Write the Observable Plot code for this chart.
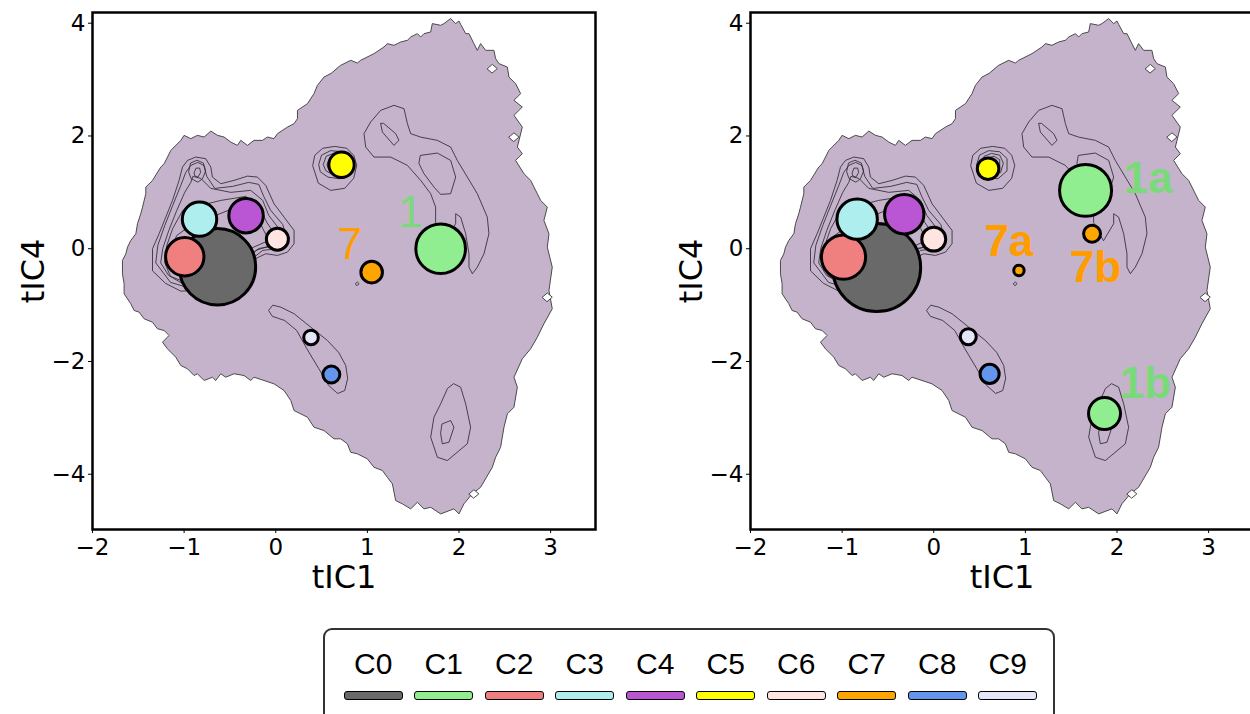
<!DOCTYPE html>
<html><head><meta charset="utf-8">
<script src="https://cdn.jsdelivr.net/npm/d3@7"></script>
<script src="https://cdn.jsdelivr.net/npm/@observablehq/plot@0.6"></script>
<style>
html,body{margin:0;padding:0;background:#fff;width:1250px;height:714px;overflow:hidden;}
#wrap{position:relative;width:1250px;height:714px;overflow:hidden;}
.panel{position:absolute;top:0;}
.panel g[aria-label$="tick label"], .panel g[aria-label$="tick label"] text{font-size:23px !important;font-family:"DejaVu Sans",sans-serif !important;}
#legendBox{position:absolute;left:323px;top:628px;width:732px;height:140px;border:2.5px solid #333;border-radius:9px;box-sizing:border-box;}
.lab{position:absolute;font-family:"Liberation Sans",Arial,sans-serif;font-size:30px;line-height:1;transform:translate(-50%,-50%);color:#000;white-space:nowrap;}
.patch{position:absolute;width:58.7px;height:9.3px;box-sizing:border-box;border:1.3px solid #000;border-radius:3px;}
</style>
</head><body><div id="wrap"></div>
<script>
// ---------- categories & colours ----------
const clusters = ["C0","C1","C2","C3","C4","C5","C6","C7","C8","C9"];
const clusterColors = ["#696969","#90ee90","#f08080","#afeeee","#ba55d3","#ffff00","#ffe4e1","#ffa500","#6495ed","#e6e6fa"];

// ---------- axes ----------
const xDomain = [-2, 3.49];
const yDomain = [-4.98, 4.19];
const xTicks = [-2,-1,0,1,2,3];
const yTicks = [-4,-2,0,2,4];
const xTitle = "tIC1";
const yTitle = "tIC4";

// ---------- left panel clusters ----------
const leftNames   = ["C0","C1","C2","C3","C4","C5","C6","C7","C8","C9"];
const leftCluster = ["C0","C1","C2","C3","C4","C5","C6","C7","C8","C9"];
const leftX = [-0.636, 1.80, -0.993, -0.832, -0.324, 0.718, 0.018, 1.047, 0.607, 0.385];
const leftY = [-0.32, 0.0, -0.142, 0.525, 0.586, 1.49, 0.17, -0.415, -2.23, -1.574];
const leftW = [75.4, 31.8, 19.0, 15.3, 15.3, 8.3, 6.25, 6.0, 3.7, 2.75];
const leftLabelText = ["1","7"];
const leftLabelCluster = ["C1","C7"];
const leftLabelX = [1.47, 0.807];
const leftLabelY = [0.64, 0.076];

// ---------- right panel clusters ----------
const rightNames   = ["C0","C1a","C1b","C2","C3","C4","C5","C6","C7a","C7b","C8","C9"];
const rightCluster = ["C0","C1","C1","C2","C3","C4","C5","C6","C7","C7","C8","C9"];
const rightX = [-0.623, 1.657, 1.864, -0.985, -0.836, -0.322, 0.593, 0.0, 0.93, 1.728, 0.61, 0.377];
const rightY = [-0.335, 1.035, -2.923, -0.149, 0.525, 0.612, 1.42, 0.17, -0.385, 0.266, -2.22, -1.56];
const rightW = [100, 34.9, 13.2, 25.2, 21.1, 20.0, 6.0, 7.4, 1.4, 3.7, 4.7, 3.3];
const rightLabelText = ["1a","1b","7a","7b"];
const rightLabelCluster = ["C1","C1","C7","C7"];
const rightLabelX = [2.34, 2.31, 0.82, 1.765];
const rightLabelY = [1.24, -2.39, 0.12, -0.345];

// ---------- density landscape (sampled region outline) ----------
const outline = [
 [0.709,3.253],[0.818,3.342],[0.891,3.294],[0.927,3.342],[1.072,3.460],[1.181,3.578],[1.218,3.638],[1.290,3.608],
 [1.364,3.667],[1.437,3.697],[1.473,3.755],[1.546,3.815],[1.582,3.755],[1.618,3.815],[1.691,3.844],[1.709,3.993],
 [1.800,3.963],[1.836,3.993],[1.909,4.082],[1.964,3.993],[2.000,4.039],[2.018,3.980],[2.073,3.815],[2.109,3.815],
 [2.163,3.638],[2.200,3.519],[2.236,3.638],[2.291,3.519],[2.381,3.519],[2.400,3.372],[2.436,3.283],[2.528,3.223],
 [2.545,3.045],[2.618,2.928],[2.673,2.751],[2.600,2.632],[2.691,2.513],[2.600,2.366],[2.691,2.158],[2.637,1.803],
 [2.691,1.686],[2.618,1.567],[2.709,1.331],[2.782,1.212],[2.855,0.976],[2.891,0.857],[2.964,0.738],[2.927,0.502],
 [2.982,0.266],[2.964,0.028],[3.018,-0.327],[2.982,-0.740],[3.018,-1.065],[2.927,-1.331],[2.855,-1.569],[2.782,-1.775],
 [2.691,-1.952],[2.600,-2.279],[2.637,-2.456],[2.600,-2.811],[2.528,-2.928],[2.491,-3.166],[2.454,-3.521],[2.400,-3.698],
 [2.364,-3.876],[2.236,-4.231],[2.145,-4.348],[2.054,-4.525],[2.000,-4.703],[1.945,-4.614],[1.800,-4.703],[1.691,-4.586],
 [1.618,-4.614],[1.546,-4.497],[1.473,-4.614],[1.382,-4.525],[1.309,-4.467],[1.273,-4.170],[1.218,-4.053],[1.164,-3.934],
 [1.072,-3.876],[1.000,-3.727],[0.891,-3.638],[0.818,-3.610],[0.782,-3.460],[0.709,-3.372],[0.636,-3.372],[0.527,-3.225],
 [0.418,-3.166],[0.346,-2.988],[0.200,-2.870],[0.164,-2.692],[0.091,-2.515],[-0.019,-2.396],[-0.128,-2.337],[-0.237,-2.279],
 [-0.273,-2.337],[-0.346,-2.249],[-0.455,-2.218],[-0.546,-2.279],[-0.600,-2.218],[-0.655,-2.337],[-0.691,-2.279],[-0.782,-2.337],
 [-0.855,-2.218],[-0.891,-2.249],[-0.963,-2.130],[-1.036,-2.071],[-1.091,-1.924],[-1.182,-1.775],[-1.236,-1.657],[-1.164,-1.539],
 [-1.218,-1.450],[-1.291,-1.420],[-1.345,-1.303],[-1.437,-1.242],[-1.491,-1.125],[-1.546,-1.095],[-1.582,-0.976],[-1.655,-0.799],
 [-1.655,-0.621],[-1.673,-0.444],[-1.673,-0.208],[-1.636,-0.089],[-1.618,0.028],[-1.582,0.147],[-1.527,0.266],[-1.509,0.444],
 [-1.473,0.621],[-1.454,0.738],[-1.418,0.976],[-1.418,1.093],[-1.345,1.212],[-1.255,1.448],[-1.218,1.508],[-1.145,1.744],
 [-1.036,1.922],[-1.000,2.011],[-0.927,1.952],[-0.855,2.011],[-0.782,1.981],[-0.709,2.087],[-0.636,2.011],[-0.564,1.981],
 [-0.491,1.892],[-0.418,1.833],[-0.382,1.922],[-0.309,1.833],[-0.237,1.922],[-0.145,1.922],[-0.091,1.981],[-0.019,1.952],
 [0.019,2.041],[0.128,2.158],[0.200,2.218],[0.237,2.307],[0.237,2.454],[0.346,2.573],[0.418,2.751],[0.455,2.898],
 [0.527,3.045],[0.600,3.106]
];
const holeA = [[2.31,3.194],[2.364,3.27],[2.418,3.194],[2.364,3.12]];
const holeB = [[2.545,1.981],[2.600,2.055],[2.655,1.981],[2.600,1.905]];
const holeC = [[2.91,-0.859],[2.964,-0.785],[3.018,-0.859],[2.964,-0.935]];
const holeD = [[2.11,-4.348],[2.163,-4.275],[2.217,-4.348],[2.163,-4.42]];

// ---------- contour lines ----------
const contourUpper = [
 [1.745,0.472],[1.745,0.738],[1.691,0.976],[1.582,1.212],[1.437,1.478],[1.255,1.626],[1.072,1.626],[0.982,1.803],
 [0.963,2.041],[1.036,2.247],[1.145,2.454],[1.290,2.543],[1.400,2.484],[1.437,2.218],[1.473,2.041],[1.582,1.980],
 [1.764,1.922],[1.909,1.803],[1.982,1.565],[2.091,1.271],[2.200,0.976],[2.309,0.561],[2.327,0.266],[2.273,-0.089],
 [2.200,-0.327],[2.146,-0.444],[2.109,-0.327],[2.109,-0.089],[2.073,0.266],[2.018,0.561],[1.964,0.621],[1.964,0.444],
 [1.855,0.147]
];
const contourUpperSmall = [[1.145,2.218],[1.164,2.069],[1.290,1.833],[1.345,1.922],[1.309,2.041],[1.181,2.218]];
const contourUpperInner = [[1.582,1.656],[1.764,1.697],[1.909,1.567],[1.964,1.271],[1.909,0.976],[1.800,0.964],[1.727,1.093],[1.618,1.331],[1.564,1.508]];
const contourLower = [
 [-0.076,-1.090],[-0.033,-1.001],[0.055,-1.036],[0.200,-1.153],[0.382,-1.391],[0.564,-1.627],[0.687,-1.840],[0.764,-2.071],
 [0.785,-2.302],[0.753,-2.515],[0.676,-2.568],[0.578,-2.426],[0.469,-2.125],[0.338,-1.770],[0.229,-1.450],[0.098,-1.273],[-0.033,-1.201]
];
const contourBottomOuter = [[1.945,-2.396],[2.018,-2.456],[2.073,-2.751],[2.127,-3.166],[2.091,-3.460],[1.873,-3.757],[1.764,-3.698],[1.691,-3.343],[1.727,-2.988],[1.800,-2.751],[1.873,-2.484]];
const contourBottomInner = [[1.818,-3.106],[1.909,-3.047],[1.945,-3.166],[1.891,-3.432],[1.818,-3.460],[1.800,-3.283]];
const contourYellow1 = [[0.404,1.480],[0.426,1.657],[0.513,1.782],[0.644,1.815],[0.775,1.782],[0.851,1.657],[0.884,1.480],[0.851,1.250],[0.753,1.072],[0.600,1.035],[0.469,1.159]];
const contourYellow2 = [[0.47,1.50],[0.50,1.66],[0.60,1.74],[0.72,1.72],[0.80,1.60],[0.80,1.38],[0.70,1.24],[0.57,1.27],[0.49,1.36]];
const contourYellow3 = [[0.52,1.50],[0.55,1.64],[0.63,1.69],[0.72,1.66],[0.76,1.52],[0.73,1.35],[0.63,1.31],[0.55,1.38]];
const contourYellow4 = [[0.56,1.50],[0.59,1.61],[0.66,1.64],[0.72,1.58],[0.72,1.43],[0.64,1.38],[0.58,1.42]];
const contourCluster1 = [
 [-1.345,-0.385],[-1.345,0.0],[-1.273,0.266],[-1.200,0.561],[-1.127,0.857],[-1.055,1.212],[-1.018,1.448],[-0.963,1.567],
 [-0.873,1.626],[-0.764,1.597],[-0.709,1.448],[-0.691,1.271],[-0.600,1.153],[-0.455,1.212],[-0.309,1.288],[-0.200,1.271],
 [-0.109,1.123],[-0.019,0.799],[0.091,0.561],[0.200,0.325],[0.200,0.089],[0.128,-0.060],[0.019,-0.119],[-0.109,-0.089],
 [-0.491,-0.385],[-0.818,-0.740],[-1.036,-0.752],[-1.200,-0.616]
];
const contourCluster2 = [
 [-1.309,-0.243],[-1.287,0.059],[-1.211,0.414],[-1.124,0.769],[-1.036,1.123],[-0.982,1.354],[-0.927,1.478],[-0.851,1.531],
 [-0.785,1.478],[-0.753,1.283],[-0.665,1.070],[-0.469,1.106],[-0.295,1.177],[-0.185,1.141],[-0.131,0.928],[-0.055,0.680],
 [0.076,0.431],[0.120,0.183],[0.033,0.005],[-0.142,-0.030],[-0.491,-0.474],[-0.927,-0.705],[-1.145,-0.598]
];
const contourCluster3 = [
 [-1.255,-0.243],[-1.233,0.005],[-1.167,0.325],[-1.080,0.680],[-0.993,1.000],[-0.927,1.177],[-0.905,1.283],[-0.818,1.248],
 [-0.709,1.070],[-0.491,1.000],[-0.273,1.035],[-0.142,0.857],[-0.076,0.591],[0.033,0.360],[0.076,0.147],[-0.033,0.041],
 [-0.185,0.005],[-0.600,-0.563],[-0.982,-0.652],[-1.167,-0.474]
];
const contourCluster4 = [
 [-1.211,-0.243],[-1.189,0.059],[-1.124,0.360],[-1.015,0.680],[-0.818,0.769],[-0.600,0.857],[-0.327,0.928],[-0.185,0.769],
 [-0.098,0.467],[0.000,0.236],[-0.055,0.059],[-0.218,-0.030],[-0.600,-0.651],[-0.982,-0.598],[-1.145,-0.492]
];
const contourCluster5 = [
 [-1.167,-0.243],[-1.145,0.005],[-1.080,0.236],[-0.927,0.414],[-0.655,0.591],[-0.382,0.769],[-0.218,0.644],[-0.142,0.360],
 [-0.076,0.147],[-0.273,0.005],[-0.655,-0.563],[-0.949,-0.527],[-1.102,-0.421]
];
const contourPeak1 = [[-0.95,1.37],[-0.93,1.52],[-0.86,1.57],[-0.79,1.52],[-0.765,1.38],[-0.80,1.24],[-0.85,1.18],[-0.92,1.24]];
const contourPeak2 = [[-0.89,1.35],[-0.87,1.43],[-0.83,1.43],[-0.82,1.35],[-0.85,1.27],[-0.88,1.29]];
const contourTiny = [[0.87,-0.62],[0.89,-0.59],[0.91,-0.62],[0.89,-0.65]];

// ---------- build tables ----------
const toRows = (pts, id) => pts.map(([x, y]) => ({x, y, id}));
const outlineRows = toRows(outline, "outline");
const holeRows = [holeA, holeB, holeC, holeD].flatMap((h, i) => toRows(h, "hole" + i));
const contourRows = [contourUpper, contourUpperSmall, contourUpperInner, contourLower, contourBottomOuter, contourBottomInner,
  contourYellow1, contourYellow2, contourYellow3, contourYellow4,
  contourCluster1, contourCluster2, contourCluster3, contourCluster4, contourCluster5,
  contourPeak1, contourPeak2, contourTiny].flatMap((c, i) => toRows(c, "c" + i));

const labelColor = {C1: "#7ada7a", C7: "#ff9d00"};
const fmt = d => (d < 0 ? "\u2212" + Math.abs(d) : String(d));

function panel(names, clus, xs, ys, ws, lt, lc, lx, ly, bold) {
  const dots = names.map((n, i) => ({name: n, cluster: clus[i], x: xs[i], y: ys[i], w: ws[i]}));
  const labels = lt.map((t, i) => ({text: t, cluster: lc[i], x: lx[i], y: ly[i]}));
  return Plot.plot({
    width: 640, height: 600,
    marginLeft: 92, marginRight: 45, marginTop: 12, marginBottom: 71,
    x: {domain: xDomain, axis: null},
    y: {domain: yDomain, axis: null},
    r: {type: "sqrt", domain: [0, 100], range: [0, 44]},
    color: {domain: clusters, range: clusterColors},
    style: {fontFamily: "DejaVu Sans", fontSize: "23px", color: "#000", background: "transparent", overflow: "visible"},
    marks: [
      Plot.line(outlineRows, {x: "x", y: "y", curve: "linear-closed", fill: "#c5b3cb", stroke: "#4a4a4a", strokeWidth: 1}),
      Plot.line(holeRows, {x: "x", y: "y", z: "id", curve: "linear-closed", fill: "#ffffff", stroke: "#4a4a4a", strokeWidth: 1}),
      Plot.line(contourRows, {x: "x", y: "y", z: "id", curve: "linear-closed", fill: "none", stroke: "#2f2a35", strokeWidth: 1, strokeOpacity: 0.85}),
      Plot.dot(dots, {x: "x", y: "y", r: "w", fill: "cluster", stroke: "#000", strokeWidth: 3}),
      Plot.text(labels, {x: "x", y: "y", text: "text", fill: d => labelColor[d.cluster], fontSize: 44,
        fontFamily: "Liberation Sans", fontWeight: bold ? "bold" : "normal"}),
      Plot.axisX({ticks: xTicks, tickFormat: fmt, tickSize: 4, tickPadding: 5, label: null, stroke: "#000", fontSize: 23, fill: "#000"}),
      Plot.axisY({ticks: yTicks, tickFormat: fmt, tickSize: 4, tickPadding: 3, label: null, stroke: "#000", fontSize: 23, fill: "#000"}),
      Plot.text([xTitle], {frameAnchor: "bottom", lineAnchor: "middle", textAnchor: "middle", text: d => d, dy: 48, fontSize: 32, fontFamily: "DejaVu Sans", fill: "#000"}),
      Plot.text([yTitle], {frameAnchor: "left", lineAnchor: "middle", textAnchor: "middle", text: d => d, dx: -59, rotate: -90, fontSize: 32, fontFamily: "DejaVu Sans", fill: "#000"}),
      Plot.frame({stroke: "#000", strokeWidth: 2.5})
    ]
  });
}

const wrap = document.getElementById("wrap");
const p1 = panel(leftNames, leftCluster, leftX, leftY, leftW, leftLabelText, leftLabelCluster, leftLabelX, leftLabelY, false);
p1.classList.add("panel"); p1.style.left = "0px";
wrap.appendChild(p1);
const p2 = panel(rightNames, rightCluster, rightX, rightY, rightW, rightLabelText, rightLabelCluster, rightLabelX, rightLabelY, true);
p2.classList.add("panel"); p2.style.left = "658px";
wrap.appendChild(p2);

// ---------- legend ----------
const box = document.createElement("div");
box.id = "legendBox";
wrap.appendChild(box);
clusters.forEach((c, i) => {
  const cx = 373.3 + 70.5 * i;
  const lab = document.createElement("div");
  lab.className = "lab"; lab.textContent = c;
  lab.style.left = cx + "px"; lab.style.top = "664px";
  wrap.appendChild(lab);
  const p = document.createElement("div");
  p.className = "patch";
  p.style.left = (cx - 29.35) + "px"; p.style.top = "690.7px";
  p.style.background = clusterColors[i];
  wrap.appendChild(p);
});
</script>
</body></html>
